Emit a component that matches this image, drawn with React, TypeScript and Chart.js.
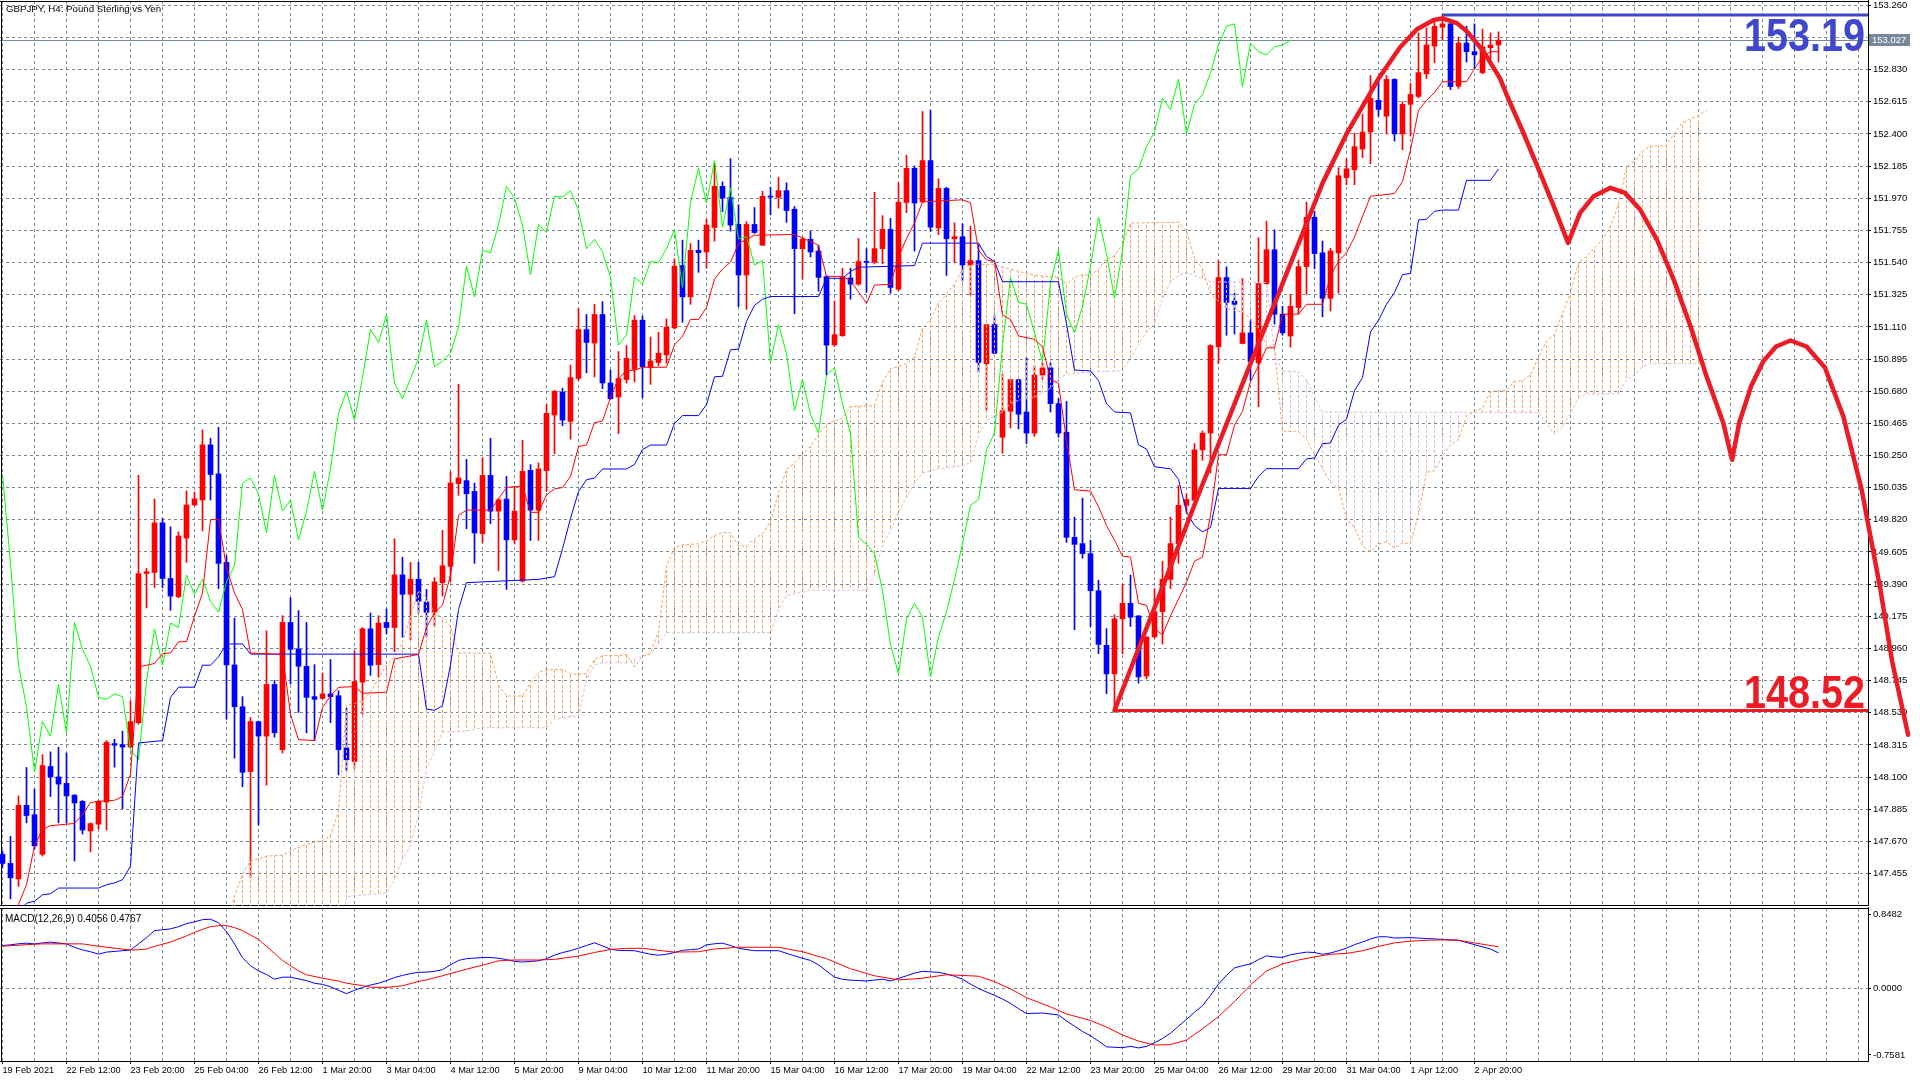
import React, { useEffect, useRef } from 'react';
import { Chart, registerables } from 'chart.js';
Chart.register(...registerables);

const FONT = "'Liberation Sans', Arial, sans-serif";
const GRID = '#778899';

const titleText = 'GBPJPY, H4: Pound Sterling vs Yen';
const macdTitle = 'MACD(12,26,9) 0.4056 0.4767';
const resistanceLabel = '153.19';
const supportLabel = '148.52';
const resistanceLevel = 153.195;
const supportLevel = 148.545;
const lastPrice = 153.027;

const xLabels = ['19 Feb 2021','22 Feb 12:00','23 Feb 20:00','25 Feb 04:00','26 Feb 12:00','1 Mar 20:00','3 Mar 04:00','4 Mar 12:00','5 Mar 20:00','9 Mar 04:00','10 Mar 12:00','11 Mar 20:00','15 Mar 04:00','16 Mar 12:00','17 Mar 20:00','19 Mar 04:00','22 Mar 12:00','23 Mar 20:00','25 Mar 04:00','26 Mar 12:00','29 Mar 20:00','31 Mar 04:00','1 Apr 12:00','2 Apr 20:00'];

const priceTicks = [147.455,147.670,147.885,148.100,148.315,148.530,148.745,148.960,149.175,149.390,149.605,149.820,150.035,150.250,150.465,150.680,150.895,151.110,151.325,151.540,151.755,151.970,152.185,152.400,152.615,152.830,153.045,153.260];
const macdTicks = [-0.7581, 0, 0.8482];

const opens = [147.584,147.523,147.419,147.911,147.848,147.584,148.171,148.101,148.058,147.979,
147.938,147.740,147.785,147.933,148.324,148.317,148.301,148.464,149.461,149.468,
149.800,149.428,149.306,149.698,149.919,149.953,150.321,150.127,149.536,148.850,
148.570,148.137,148.471,148.374,148.719,148.283,149.134,148.956,148.841,148.638,
148.626,148.656,148.644,148.295,148.204,148.735,149.091,148.852,149.134,149.100,
149.452,149.322,149.423,149.270,149.202,149.400,149.509,150.062,150.082,150.010,
149.727,150.117,149.878,149.959,149.686,149.411,150.151,149.885,150.149,150.521,
150.674,150.478,150.765,151.092,151.002,151.193,150.735,150.641,150.758,150.826,
151.155,150.839,150.871,150.923,151.103,151.520,151.311,151.622,151.611,151.775,
152.050,151.976,151.795,151.457,151.795,151.656,151.983,151.976,152.021,151.897,
151.633,151.696,151.617,151.446,150.990,151.051,151.437,151.396,151.547,151.543,
151.633,151.762,151.362,151.942,152.170,151.946,152.222,151.771,152.036,151.699,
151.713,151.524,151.553,150.864,151.125,150.372,150.546,150.757,150.541,150.400,
150.788,150.836,150.597,150.406,149.703,149.661,149.594,149.346,148.981,148.790,
149.158,149.262,149.178,148.776,149.037,149.206,149.422,149.661,149.917,149.951,
150.288,150.400,150.977,151.440,151.282,150.999,151.070,150.869,151.399,151.626,
151.195,151.049,151.240,151.513,151.843,151.605,151.301,151.605,152.108,152.161,
152.299,152.413,152.625,152.519,152.765,152.400,152.598,152.651,152.802,152.987,
153.114,153.136,152.719,153.008,152.950,152.810,152.977,152.995];

const highs = [147.606,147.703,147.974,148.164,148.019,148.250,148.268,148.299,148.261,147.983,
147.943,147.794,147.945,148.344,148.353,148.407,148.611,150.118,149.495,149.960,
149.829,149.773,149.739,150.014,150.005,150.421,150.366,150.439,149.581,149.163,
148.638,148.498,148.475,149.078,148.746,149.179,149.299,149.213,149.134,148.852,
148.796,148.886,148.678,148.561,148.942,149.100,149.197,149.179,149.224,149.694,
149.570,149.536,149.536,149.355,149.434,149.750,150.141,150.727,150.224,150.066,
150.235,150.365,149.964,150.110,150.043,150.352,150.189,150.201,150.591,150.686,
150.701,150.855,151.232,151.193,151.261,151.279,150.821,150.945,150.986,151.186,
151.182,151.042,151.074,151.164,151.565,151.690,151.667,151.690,151.829,152.202,
152.080,152.235,151.926,151.814,151.908,152.017,152.044,152.111,152.073,151.915,
151.705,151.750,151.656,151.453,151.283,151.502,151.502,151.701,151.633,152.010,
151.854,151.836,152.073,152.258,152.186,152.550,152.559,152.101,152.044,151.806,
151.800,151.783,151.659,151.125,151.187,150.794,150.757,150.760,150.906,150.850,
150.873,150.873,150.631,150.611,149.838,149.965,149.684,149.416,149.093,149.186,
149.388,149.450,149.178,149.037,149.360,149.543,149.838,150.049,149.993,150.330,
150.414,150.991,151.553,151.512,151.335,151.433,151.150,151.707,151.817,151.759,
151.248,151.327,151.557,151.944,151.883,151.684,151.636,152.174,152.235,152.405,
152.532,152.791,152.757,152.791,152.770,152.617,152.738,153.075,153.109,153.146,
153.199,153.154,153.048,153.120,153.136,153.101,153.075,153.083];

const lows = [147.493,147.286,147.369,147.794,147.618,147.572,147.970,147.794,147.794,147.539,
147.719,147.600,147.753,147.746,148.166,147.888,148.295,148.453,149.231,149.367,
149.367,149.215,149.299,149.536,149.915,149.746,149.953,149.360,148.486,148.227,
148.035,147.426,147.780,148.046,148.367,148.261,148.723,148.532,148.396,148.344,
148.622,148.464,148.114,148.141,148.159,148.520,148.780,148.769,149.057,148.938,
149.035,149.017,149.197,149.039,149.107,149.310,149.405,149.983,149.761,149.529,
149.666,149.795,149.479,149.355,149.659,149.404,149.682,149.682,150.009,150.262,
150.449,150.359,150.753,150.803,150.776,150.697,150.629,150.397,150.735,150.742,
150.636,150.726,150.850,150.866,151.096,151.141,151.261,151.475,151.502,151.683,
151.881,151.750,151.245,151.227,151.735,151.656,151.859,151.904,151.809,151.198,
151.430,151.577,151.349,150.787,150.979,151.047,151.295,151.389,151.340,151.532,
151.532,151.335,151.351,151.874,151.617,151.940,151.749,151.727,151.454,151.539,
151.418,151.322,150.808,150.555,150.930,150.265,150.434,150.428,150.330,150.378,
150.760,150.541,150.372,149.669,149.085,149.563,149.107,148.925,148.658,148.545,
148.925,149.107,148.728,148.756,149.029,148.989,149.360,149.529,149.866,149.951,
150.218,150.133,150.864,151.054,151.062,150.996,150.752,150.576,151.394,151.129,
151.054,150.975,151.195,151.327,151.499,151.177,151.216,151.335,152.061,152.061,
152.241,152.201,152.519,152.400,152.352,152.294,152.386,152.643,152.770,152.876,
153.030,152.696,152.704,152.881,152.836,152.802,152.903,152.881];

const closes = [147.523,147.426,147.911,147.843,147.640,148.177,148.101,148.053,147.974,147.927,
147.746,147.789,147.938,148.333,148.313,148.301,148.471,149.461,149.473,149.800,
149.428,149.310,149.712,149.919,149.960,150.321,150.123,149.529,148.850,148.570,
148.132,148.471,148.374,148.719,148.396,149.134,148.954,148.841,148.633,148.620,
148.656,148.638,148.283,148.216,148.739,149.091,148.848,149.130,149.100,149.452,
149.322,149.423,149.276,149.202,149.405,149.513,150.066,150.100,149.994,149.732,
150.117,149.878,149.953,149.686,149.878,150.144,149.885,150.160,150.532,150.679,
150.487,150.771,151.092,151.006,151.193,150.735,150.629,150.765,150.900,151.155,
150.844,150.882,150.934,151.108,151.516,151.311,151.622,151.606,151.791,152.050,
151.971,151.791,151.457,151.795,151.741,151.983,151.978,152.021,151.888,151.633,
151.696,151.611,151.441,150.988,151.058,151.441,151.396,151.547,151.541,151.633,
151.762,151.374,151.944,152.170,151.938,152.222,151.777,152.036,151.699,151.713,
151.524,151.553,150.872,151.125,150.934,150.549,150.757,150.526,150.400,150.788,
150.836,150.597,150.400,149.703,149.656,149.594,149.346,148.987,148.790,149.158,
149.262,149.169,148.770,149.037,149.206,149.422,149.661,149.917,149.956,150.288,
150.400,150.985,151.440,151.274,151.261,151.070,150.877,151.399,151.626,151.195,
151.070,151.248,151.513,151.843,151.600,151.301,151.618,152.121,152.167,152.315,
152.413,152.638,152.564,152.765,152.400,152.598,152.664,152.810,152.995,153.120,
153.136,152.717,153.008,152.950,152.929,152.982,152.995,153.027];

const chikouShift = 26;

const tenkanPts = [[1,147.13],[2,147.25],[3,147.38],[4,147.64],[5,147.75],[6,147.775],[9,147.79],[10,147.85],[11,147.93],[12,147.938],[14,147.945],[15,147.97],[16,148.12],[17,148.836],[18,148.847],[19,148.86],[20,148.925],[21,148.93],[22,149.005],[23,149.005],[24,149.175],[25,149.33],[26,149.82],[27,149.825],[28,149.5],[29,149.33],[30,149.22],[31,148.93],[35,148.92],[36,148.52],[37,148.35],[39,148.344],[40,148.565],[41,148.644],[42,148.70],[44,148.705],[45,148.66],[48,148.667],[49,148.89],[52,148.92],[53,149.1],[54,149.2],[55,149.25],[56,149.45],[57,149.85],[58,149.885],[61,149.885],[63,150.036],[65,150.047],[66,149.87],[67,149.87],[68,149.986],[69,150.027],[70,150.036],[71,150.11],[72,150.31],[73,150.32],[74,150.47],[75,150.48],[76,150.64],[77,150.765],[78,150.817],[79,150.82],[80,150.84],[83,150.84],[84,150.99],[85,151.046],[86,151.16],[87,151.16],[88,151.24],[89,151.43],[90,151.497],[91,151.543],[92,151.667],[94,151.723],[99,151.728],[100,151.705],[102,151.656],[103,151.448],[105,151.448],[106,151.419],[108,151.268],[109,151.39],[111,151.394],[112,151.577],[113,151.7],[114,151.805],[115,151.946],[120,151.96],[121,151.94],[122,151.623],[123,151.558],[124,151.547],[125,151.19],[126,151.159],[127,151.05],[129,151.027],[130,150.977],[131,150.76],[132,150.732],[133,150.35],[134,150.021],[136,150.012],[137,149.908],[138,149.782],[139,149.684],[140,149.577],[141,149.571],[142,149.262],[143,149.248],[144,149.093],[145,149.051],[146,149.178],[147,149.29],[148,149.403],[149,149.543],[150,149.571],[151,149.85],[152,150.255],[153,150.255],[154,150.453],[155,150.546],[156,150.745],[157,150.85],[158,150.97],[159,150.97],[160,151.195],[162,151.195],[163,151.261],[165,151.261],[166,151.45],[167,151.55],[168,151.605],[169,151.711],[171,151.984],[172,151.989],[174,152.002],[175,152.082],[176,152.293],[177,152.558],[178,152.625],[179,152.677],[180,152.749],[183,152.749],[184,152.836],[185,152.916],[186,152.95],[187,152.95]];

const kijunPts = [[2,147.2],[3,147.257],[4,147.27],[5,147.313],[6,147.32],[7,147.358],[12,147.358],[13,147.38],[14,147.392],[15,147.414],[16,147.505],[17,148.328],[20,148.344],[21,148.633],[22,148.701],[24,148.701],[25,148.848],[26,148.848],[27,148.904],[28,148.99],[30,148.99],[31,148.922],[52,148.922],[53,148.554],[54,148.547],[55,148.577],[56,148.85],[57,149.22],[58,149.4],[67,149.422],[69,149.44],[70,149.626],[71,149.83],[72,150.009],[73,150.088],[74,150.1],[75,150.16],[78,150.16],[79,150.19],[80,150.29],[81,150.32],[83,150.32],[84,150.465],[85,150.517],[87,150.517],[88,150.59],[89,150.776],[90,150.78],[91,150.957],[92,150.961],[93,151.148],[94,151.254],[95,151.295],[96,151.313],[102,151.313],[103,151.435],[105,151.435],[106,151.48],[107,151.509],[114,151.52],[115,151.67],[122,151.67],[123,151.58],[124,151.547],[125,151.412],[132,151.412],[133,151.131],[134,150.822],[136,150.816],[137,150.752],[138,150.597],[139,150.541],[141,150.535],[142,150.322],[143,150.293],[144,150.175],[146,150.161],[147,150.091],[148,149.872],[149,149.782],[150,149.74],[151,149.768],[152,150.03],[156,150.03],[157,150.11],[158,150.162],[162,150.162],[163,150.228],[164,150.233],[165,150.329],[166,150.334],[167,150.453],[168,150.493],[169,150.684],[170,150.771],[171,151.076],[172,151.155],[173,151.261],[174,151.34],[175,151.46],[176,151.467],[177,151.825],[178,151.83],[179,151.883],[180,151.891],[182,151.891],[183,152.09],[186,152.09],[187,152.166]];

const spanAPts = [[28,147.1],[29,147.3],[30,147.45],[31,147.538],[33,147.572],[35,147.577],[36,147.606],[37,147.633],[39,147.667],[40,147.674],[41,147.708],[42,147.87],[43,148.58],[44,148.592],[45,148.61],[46,148.667],[47,148.76],[48,148.848],[49,148.904],[50,149.0],[51,149.175],[52,149.344],[53,149.3],[54,149.197],[55,149.163],[56,149.108],[57,148.93],[61,148.926],[62,148.72],[63,148.642],[65,148.642],[66,148.73],[67,148.8],[68,148.819],[70,148.819],[71,148.786],[73,148.793],[74,148.886],[75,148.912],[77,148.912],[78,148.919],[79,148.837],[80,148.908],[81,148.93],[82,149.075],[83,149.51],[84,149.637],[85,149.653],[87,149.66],[88,149.682],[89,149.716],[90,149.734],[91,149.734],[92,149.648],[93,149.643],[94,149.693],[95,149.727],[96,149.806],[97,150.0],[98,150.156],[99,150.201],[100,150.257],[101,150.313],[102,150.392],[103,150.46],[104,150.483],[105,150.5],[106,150.577],[109,150.584],[110,150.742],[111,150.832],[112,150.843],[113,150.866],[114,150.911],[115,151.103],[116,151.159],[117,151.271],[118,151.328],[119,151.398],[120,151.496],[121,151.524],[122,151.53],[124,151.524],[125,151.51],[129,151.454],[132,151.44],[133,151.398],[134,151.44],[135,151.46],[136,151.454],[137,151.496],[138,151.567],[139,151.586],[140,151.665],[141,151.805],[142,151.805],[147,151.811],[148,151.749],[149,151.567],[150,151.5],[151,151.33],[152,151.282],[153,151.234],[155,151.208],[156,151.168],[157,151.102],[158,150.983],[159,150.97],[160,150.414],[162,150.408],[163,150.361],[164,150.255],[165,150.162],[166,150.07],[167,150.03],[168,149.831],[169,149.765],[170,149.646],[171,149.606],[172,149.659],[173,149.672],[174,149.632],[175,149.667],[176,149.659],[177,149.857],[178,150.136],[179,150.149],[180,150.244],[181,150.321],[182,150.356],[183,150.512],[184,150.545],[185,150.568],[186,150.679],[188,150.686],[189,150.746],[190,150.75],[191,150.79],[192,150.909],[193,151.014],[194,151.058],[195,151.203],[196,151.337],[197,151.542],[198,151.578],[199,151.638],[200,151.694],[201,151.783],[202,151.928],[203,152.18],[204,152.218],[205,152.285],[206,152.318],[208,152.323],[209,152.408],[210,152.474],[211,152.501],[212,152.524],[213,152.559]];

const spanBPts = [[28,146.8],[42,146.9],[43,147.3],[45,147.313],[48,147.324],[49,147.415],[50,147.55],[51,147.64],[52,147.85],[53,148.159],[54,148.272],[55,148.4],[58,148.408],[60,148.43],[68,148.43],[69,148.486],[71,148.504],[72,148.508],[73,148.75],[74,148.85],[75,148.864],[78,148.864],[79,148.89],[80,148.91],[81,148.92],[82,148.99],[83,149.064],[96,149.066],[97,149.22],[98,149.314],[100,149.337],[101,149.35],[108,149.35],[109,149.45],[110,149.65],[111,149.75],[112,149.87],[113,149.97],[114,150.063],[115,150.133],[117,150.161],[120,150.181],[121,150.203],[122,150.386],[123,150.485],[124,150.513],[125,150.541],[126,150.597],[127,150.619],[129,150.639],[131,150.7],[132,150.766],[133,150.794],[136,150.808],[140,150.816],[141,150.906],[142,150.99],[143,151.075],[144,151.131],[145,151.3],[146,151.412],[147,151.454],[148,151.474],[151,151.412],[158,151.406],[159,150.93],[160,150.811],[162,150.811],[163,150.758],[164,150.639],[165,150.541],[192,150.538],[193,150.467],[194,150.389],[195,150.445],[196,150.534],[197,150.634],[198,150.663],[202,150.663],[203,150.757],[204,150.79],[205,150.846],[206,150.864],[213,150.864]];

const macdMainPts = [[0,0.49],[1,0.498],[2,0.51],[3,0.517],[4,0.509],[5,0.52],[6,0.529],[8,0.509],[9,0.47],[10,0.44],[11,0.419],[12,0.392],[13,0.415],[15,0.431],[16,0.439],[17,0.509],[18,0.58],[19,0.66],[21,0.68],[22,0.705],[23,0.74],[24,0.76],[25,0.785],[26,0.79],[27,0.75],[28,0.65],[29,0.509],[30,0.35],[31,0.26],[32,0.2],[33,0.16],[34,0.106],[35,0.129],[36,0.129],[38,0.09],[39,0.059],[40,0.047],[41,0.02],[42,-0.02],[43,-0.059],[44,-0.02],[45,0.012],[46,0.04],[47,0.06],[48,0.09],[49,0.125],[50,0.149],[51,0.17],[52,0.184],[53,0.186],[54,0.196],[55,0.215],[56,0.27],[57,0.32],[58,0.34],[60,0.353],[61,0.353],[62,0.345],[63,0.33],[64,0.31],[65,0.302],[66,0.308],[67,0.316],[68,0.34],[69,0.38],[70,0.41],[71,0.431],[72,0.46],[73,0.49],[74,0.521],[75,0.485],[76,0.45],[77,0.433],[79,0.431],[80,0.41],[81,0.39],[82,0.38],[83,0.39],[84,0.41],[85,0.435],[86,0.443],[87,0.45],[88,0.498],[89,0.51],[90,0.517],[91,0.49],[92,0.458],[94,0.431],[97,0.431],[99,0.372],[100,0.345],[101,0.32],[102,0.27],[104,0.129],[105,0.105],[106,0.095],[108,0.086],[110,0.106],[111,0.086],[113,0.145],[114,0.175],[115,0.196],[117,0.184],[118,0.165],[119,0.14],[120,0.106],[121,0.05],[122,0],[123,-0.04],[124,-0.078],[125,-0.12],[126,-0.17],[127,-0.23],[128,-0.286],[130,-0.28],[132,-0.302],[133,-0.37],[134,-0.43],[135,-0.49],[136,-0.54],[137,-0.6],[138,-0.666],[140,-0.675],[141,-0.659],[142,-0.678],[143,-0.66],[144,-0.62],[145,-0.57],[146,-0.51],[147,-0.43],[148,-0.353],[149,-0.27],[150,-0.196],[151,-0.08],[152,0.05],[153,0.15],[154,0.235],[155,0.26],[156,0.28],[157,0.33],[158,0.372],[159,0.36],[160,0.355],[161,0.385],[162,0.4],[163,0.415],[164,0.41],[165,0.39],[166,0.405],[167,0.43],[168,0.46],[169,0.5],[170,0.53],[171,0.565],[172,0.59],[173,0.59],[174,0.576],[176,0.58],[178,0.57],[180,0.56],[182,0.55],[184,0.5],[186,0.45],[187,0.4056]];

const macdSignalPts = [[0,0.482],[3,0.5],[5,0.509],[10,0.509],[12,0.482],[14,0.46],[16,0.439],[17,0.441],[18,0.45],[19,0.48],[21,0.53],[23,0.6],[24,0.64],[25,0.675],[26,0.705],[27,0.717],[28,0.717],[29,0.694],[30,0.66],[31,0.61],[32,0.56],[33,0.48],[34,0.4],[35,0.32],[36,0.26],[37,0.2],[38,0.157],[40,0.117],[42,0.085],[43,0.06],[45,0.033],[46,0.015],[48,0.012],[50,0.031],[52,0.08],[53,0.098],[55,0.145],[58,0.22],[60,0.266],[62,0.315],[64,0.325],[67,0.325],[69,0.332],[72,0.37],[74,0.411],[76,0.445],[78,0.458],[80,0.458],[82,0.435],[84,0.415],[86,0.418],[87,0.419],[89,0.45],[92,0.47],[97,0.47],[100,0.419],[103,0.34],[106,0.225],[109,0.145],[112,0.098],[115,0.117],[118,0.157],[122,0.14],[124,0.078],[126,-0.005],[128,-0.105],[131,-0.21],[133,-0.29],[136,-0.365],[138,-0.44],[140,-0.53],[142,-0.6],[144,-0.645],[146,-0.64],[148,-0.588],[150,-0.46],[152,-0.32],[154,-0.15],[156,0.04],[158,0.2],[160,0.28],[162,0.325],[164,0.36],[166,0.39],[168,0.4],[170,0.43],[172,0.48],[174,0.52],[176,0.54],[178,0.55],[180,0.555],[182,0.55],[184,0.52],[186,0.49],[187,0.4767]];

const projectionPts = [[139,148.545],[149.7,150.016],[156,150.864],[163,151.80],[165,152.07],[168,152.40],[171,152.677],[172,152.77],[174.7,152.98],[176.8,153.10],[178.9,153.162],[180,153.173],[181.8,153.141],[183,153.088],[185.1,152.955],[187.2,152.77],[188,152.664],[190.1,152.408],[192.2,152.14],[193.9,151.917],[195.7,151.672],[197.2,151.872],[198.9,151.984],[201,152.04],[202.8,152.006],[204.7,151.895],[206.8,151.694],[208.9,151.426],[211,151.114],[213,150.78],[215.1,150.467],[216.2,150.222],[217.1,150.471],[218.6,150.717],[220.1,150.88],[221.7,150.979],[223.5,151.019],[225.5,150.979],[227.8,150.839],[230.1,150.512],[232.4,150.02],[234.7,149.366],[236.2,148.874],[238.2,148.383]];

const resistanceStart = 180;
const supportStart = 139;

// axis geometry
const X_MIN = -0.3125;
const X_MAX = X_MIN + 1868 / 8;
const Y_MIN = 147.238;
const Y_MAX = 153.289;
const M_MIN = -0.827;
const M_MAX = 0.918;

const pts = (a: number[][]) => a.map(([x, y]) => ({ x, y }));
const gridTicks: number[] = [];
for (let v = 0; v <= 232; v += 4) gridTicks.push(v);

function hatch(ctx: CanvasRenderingContext2D, color: string) {
  const c = document.createElement('canvas');
  c.width = 8; c.height = 5;
  const g = c.getContext('2d')!;
  g.fillStyle = color;
  g.fillRect(2, 0, 1, 3);
  return ctx.createPattern(c, 'repeat');
}

function drawBig(ctx: CanvasRenderingContext2D, text: string, color: string, baseline: number) {
  ctx.save();
  ctx.font = `bold 46px ${FONT}`;
  ctx.textAlign = 'right';
  ctx.textBaseline = 'alphabetic';
  ctx.fillStyle = color;
  ctx.translate(1865, baseline);
  ctx.scale(0.86, 1);
  ctx.fillText(text, 0, 0);
  ctx.restore();
}

const mainOverlay = {
  id: 'mainOverlay',
  beforeDatasetsDraw(chart: any) {
    const { ctx, chartArea: a } = chart;
    const ys = chart.scales.y;
    ctx.save();
    ctx.setLineDash([]);
    ctx.lineWidth = 1;
    const py = Math.round(ys.getPixelForValue(lastPrice)) + 0.5;
    ctx.strokeStyle = GRID;
    ctx.beginPath(); ctx.moveTo(a.left, py); ctx.lineTo(a.right, py); ctx.stroke();
    ctx.strokeStyle = '#000';
    ctx.beginPath();
    ctx.moveTo(0, a.top + 0.5); ctx.lineTo(a.right + 1, a.top + 0.5);
    ctx.moveTo(1.5, a.top); ctx.lineTo(1.5, a.bottom);
    ctx.moveTo(0, a.bottom - 0.5); ctx.lineTo(a.right + 1, a.bottom - 0.5);
    ctx.moveTo(a.right + 0.5, 0); ctx.lineTo(a.right + 0.5, a.bottom);
    ctx.stroke();
    ctx.restore();
  },
  afterDraw(chart: any) {
    const { ctx } = chart;
    const ys = chart.scales.y;
    ctx.save();
    ctx.fillStyle = '#000';
    ctx.font = `9.7px ${FONT}`;
    ctx.textAlign = 'left';
    ctx.textBaseline = 'alphabetic';
    ctx.fillText(titleText, 6, 12);
    const py = ys.getPixelForValue(lastPrice);
    ctx.fillStyle = GRID;
    ctx.fillRect(1869, Math.round(py) - 6, 41, 12);
    ctx.fillStyle = '#fff';
    ctx.font = `9.5px ${FONT}`;
    ctx.textBaseline = 'middle';
    ctx.fillText(lastPrice.toFixed(3), 1872, py + 0.5);
    ctx.restore();
    drawBig(ctx, resistanceLabel, '#3F48CC', ys.getPixelForValue(resistanceLevel) + 35.5);
    drawBig(ctx, supportLabel, '#ED1C24', ys.getPixelForValue(supportLevel) - 2.5);
  },
};

const macdOverlay = {
  id: 'macdOverlay',
  beforeDatasetsDraw(chart: any) {
    const { ctx, chartArea: a } = chart;
    ctx.save();
    ctx.setLineDash([]);
    ctx.lineWidth = 1;
    ctx.strokeStyle = '#000';
    ctx.beginPath();
    ctx.moveTo(0, a.top + 0.5); ctx.lineTo(a.right + 1, a.top + 0.5);
    ctx.moveTo(1.5, a.top); ctx.lineTo(1.5, a.bottom);
    ctx.moveTo(0, a.bottom + 0.5); ctx.lineTo(a.right + 1, a.bottom + 0.5);
    ctx.moveTo(a.right + 0.5, 0); ctx.lineTo(a.right + 0.5, a.bottom + 1);
    ctx.stroke();
    ctx.restore();
  },
  afterDraw(chart: any) {
    const { ctx } = chart;
    ctx.save();
    ctx.fillStyle = '#000';
    ctx.font = `10px ${FONT}`;
    ctx.textAlign = 'left';
    ctx.textBaseline = 'alphabetic';
    ctx.fillText(macdTitle, 5, 15);
    ctx.restore();
  },
};

export default function App() {
  const mainRef = useRef<HTMLCanvasElement>(null);
  const macdRef = useRef<HTMLCanvasElement>(null);

  useEffect(() => {
    document.body.style.margin = '0';
    const mc = mainRef.current!;
    const ctx = mc.getContext('2d')!;
    const patUp = hatch(ctx, '#F4A460');
    const patDown = hatch(ctx, '#D8BFD8');

    const up = closes.map((c, i) => c >= opens[i]);
    const candleColors = up.map((u) => (u ? '#FF0000' : '#0000FF'));

    const line = (data: any, color: string, width = 1, extra: any = {}) => ({
      type: 'line', data, borderColor: color, borderWidth: width, pointRadius: 0,
      tension: 0, fill: false, ...extra,
    });

    const main = new Chart(mc, {
      type: 'bar',
      data: {
        datasets: [
          line(pts(projectionPts), '#ED1C24', 4.5, { clip: false, xAxisID: 'xp', borderJoinStyle: 'round', borderCapStyle: 'round' }),
          line([{ x: resistanceStart, y: resistanceLevel }, { x: X_MAX, y: resistanceLevel }], '#3F48CC', 3),
          line([{ x: supportStart, y: supportLevel }, { x: X_MAX, y: supportLevel }], '#ED1C24', 3),
          line(pts(tenkanPts), '#FF0000', 1),
          line(pts(kijunPts), '#0000FF', 1),
          line(closes.slice(chikouShift).map((c, k) => ({ x: k, y: c })), '#00FF00', 1),
          line(pts(spanAPts), '#F4A460', 1, { borderDash: [3, 2], fill: { target: '+1', above: patUp, below: patDown } }),
          line(pts(spanBPts), '#D8BFD8', 1, { borderDash: [3, 2] }),
          {
            type: 'bar', data: highs.map((h, i) => ({ x: i, y: [lows[i], h] })),
            backgroundColor: candleColors, barThickness: 1, grouped: false, minBarLength: 1,
          },
          {
            type: 'bar', data: opens.map((o, i) => ({ x: i, y: [o, closes[i]] })),
            backgroundColor: candleColors, barThickness: 5, grouped: false, minBarLength: 1,
          },
        ],
      } as any,
      options: {
        animation: false, responsive: false, devicePixelRatio: 1, events: [],
        layout: { padding: { top: 1, left: 0, right: 0, bottom: 0 } },
        plugins: { legend: { display: false }, tooltip: { enabled: false } },
        scales: {
          x: {
            type: 'linear', min: X_MIN, max: X_MAX, offset: false,
            grid: { color: GRID, drawTicks: false, offset: false },
            border: { display: false, dash: [3, 3] },
            ticks: { display: false },
            afterBuildTicks: (s: any) => { s.ticks = gridTicks.map((v) => ({ value: v })); },
            afterFit: (s: any) => { s.height = 2; s.paddingLeft = 0; s.paddingRight = 0; },
          },
          xp: {
            type: 'linear', display: false, position: 'bottom', bounds: 'data', offset: false,
            afterDataLimits: (s: any) => { s.min = X_MIN; s.max = X_MAX; },
          },
          y: {
            type: 'linear', position: 'right', min: Y_MIN, max: Y_MAX,
            grid: { color: GRID, drawTicks: true, tickLength: 3, tickColor: '#000', tickBorderDash: [] },
            border: { display: false, dash: [3, 3] },
            ticks: { color: '#000', font: { family: FONT, size: 9.5 }, padding: 2, autoSkip: false,
              callback: (v: any) => Number(v).toFixed(3) },
            afterBuildTicks: (s: any) => { s.ticks = priceTicks.map((v) => ({ value: v })); },
            afterFit: (s: any) => { s.width = 52; s.paddingTop = 0; s.paddingBottom = 0; },
          },
        },
      } as any,
      plugins: [mainOverlay],
    } as any);

    const macd = new Chart(macdRef.current!, {
      type: 'line',
      data: {
        datasets: [
          line(pts(macdSignalPts), '#FF0000', 1),
          line(pts(macdMainPts), '#0000FF', 1),
        ],
      } as any,
      options: {
        animation: false, responsive: false, devicePixelRatio: 1, events: [],
        layout: { padding: { top: 1, left: 0, right: 0, bottom: 0 } },
        plugins: { legend: { display: false }, tooltip: { enabled: false } },
        scales: {
          x: {
            type: 'linear', min: X_MIN, max: X_MAX, offset: false,
            grid: {
              color: GRID, drawTicks: true, tickLength: 3, tickBorderDash: [],
              tickColor: (c: any) => (c.tick && c.tick.value % 8 === 0 && c.tick.value / 8 < xLabels.length ? '#000' : 'rgba(0,0,0,0)'),
            },
            border: { display: false, dash: [3, 3] },
            ticks: {
              color: '#000', font: { family: FONT, size: 9.2 }, padding: 1, align: 'start',
              autoSkip: false, maxRotation: 0, minRotation: 0,
              callback: (v: any) => (v % 8 === 0 && xLabels[v / 8] ? xLabels[v / 8] : ''),
            },
            afterBuildTicks: (s: any) => { s.ticks = gridTicks.map((v) => ({ value: v })); },
            afterFit: (s: any) => { s.height = 19; s.paddingLeft = 0; s.paddingRight = 0; },
          },
          y: {
            type: 'linear', position: 'right', min: M_MIN, max: M_MAX,
            grid: {
              color: (c: any) => (c.tick && c.tick.value === 0 ? GRID : 'rgba(0,0,0,0)'),
              drawTicks: true, tickLength: 3, tickColor: '#000', tickBorderDash: [],
            },
            border: { display: false, dash: [3, 3] },
            ticks: { color: '#000', font: { family: FONT, size: 9.5 }, padding: 2, autoSkip: false,
              callback: (v: any) => Number(v).toFixed(4) },
            afterBuildTicks: (s: any) => { s.ticks = macdTicks.map((v) => ({ value: v })); },
            afterFit: (s: any) => { s.width = 52; s.paddingTop = 0; s.paddingBottom = 0; },
          },
        },
      } as any,
      plugins: [macdOverlay],
    } as any);

    return () => { main.destroy(); macd.destroy(); };
  }, []);

  return (
    <div style={{ position: 'fixed', left: 0, top: 0, width: 1920, height: 1080, background: '#fff', overflow: 'hidden' }}>
      <canvas ref={mainRef} width={1920} height={908}
        style={{ position: 'absolute', left: 0, top: 0, width: 1920, height: 908 }} />
      <canvas ref={macdRef} width={1920} height={173}
        style={{ position: 'absolute', left: 0, top: 907, width: 1920, height: 173 }} />
    </div>
  );
}
